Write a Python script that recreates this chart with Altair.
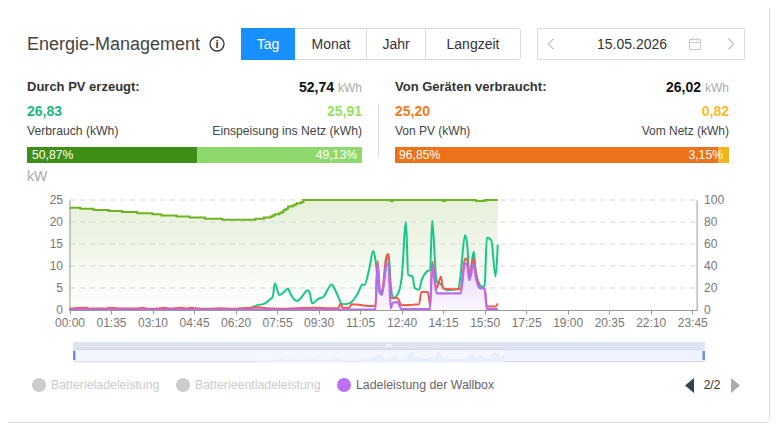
import altair as alt
import pandas as pd

# ---- values ----
soc_t = [0,25,55,90,120,155,190,210,245,275,310,350,425,445,455,460,465,470,480,485,490,495,500,510,515,520,530,535,735,740,855,860,930,950]
soc_v = [93,92,91,90,89,88,87,86,85,84,83,82,83,84,84,85,86,87,88,89,91,92,94,95,96,97,98,100,99,100,99,100,99,100]

pv_t = [0,395,415,430,445,460,465,470,480,490,500,505,520,530,545,550,555,570,580,600,610,625,640,660,670,675,685,695,700,705,710,715,730,735,740,750,760,770,775,785,790,800,805,820,825,830,840,850,855,865,890,895,905,910,915,925,930,945,950,955,965,975,980]
pv_v = [0,0,0.5,1.1,1.4,2.5,3.0,6.1,3.4,4.0,4.9,3.8,2.05,2.8,4.5,3.8,1.5,2.6,2.9,5.8,4.1,1.3,1.5,3.8,5.8,5.7,8.9,13.4,11.4,7.2,3.8,4.0,12.7,6,2.7,3.4,7.2,20,8,7.6,5,4.6,6.5,8.9,9.1,20.3,6.5,5.8,5,4.5,4.8,8,17,15,7.6,13.3,8.1,5.3,5.7,16.4,15.9,7.6,14.9]

red_t = [0,20,40,45,60,85,90,125,150,170,175,200,215,230,245,255,270,275,300,325,340,375,395,420,430,450,480,520,560,600,615,620,625,640,645,695,700,705,710,715,725,730,735,750,760,800,805,820,825,830,840,850,855,895,905,910,915,925,930,940,950,955,975,980]
red_v = [0.3,0.45,0.5,0.3,0.35,0.35,0.5,0.35,0.35,0.5,0.3,0.3,0.5,0.3,0.4,0.5,0.3,0.5,0.3,0.3,0.4,0.3,0.4,0.5,0.6,0.4,0.3,0.4,0.5,0.4,0.4,1.5,0.5,0.5,1.3,0.9,0.9,11.2,4.3,4.3,12.2,12.7,2.7,2.7,1.1,1.3,4.1,4.1,1.1,11,4.9,7.6,4.9,4.7,11.7,11.4,7.6,11.7,8.6,5,5,0.8,0.8,1.5]

wb_t = [0,700,705,710,715,725,730,735,740,750,760,825,830,840,895,905,910,915,925,930,940,950,955,980]
wb_v = [0.1,0.1,10.6,4.2,3.4,10.4,10.4,0.4,1.7,1.8,0.2,0.2,10.2,3.8,3.8,10.6,10.2,6.8,10.6,7.2,4.9,4.9,0.2,0.2]

pv_shares = [50.87, 49.13]
dev_shares = [96.85, 3.15]
x_ticks = [0,95,190,285,380,475,570,665,760,855,950,1045,1140,1235,1330,1425]
kw_ticks = [0,5,10,15,20,25]
pct_ticks = [0,20,40,60,80,100]
grid_kw = [5,10,15,20,25]

FONT = "Liberation Sans"
one = alt.Data(values=[{"a": 1}])
X0, X1, Y0, Y1 = 69.5, 696.6, 310, 200


def V(p):
    return alt.value(p - 8)


def txt(s, x, y, size=12, color="#444444", align="left", weight="normal"):
    return alt.Chart(one).mark_text(text=s, font=FONT, fontSize=size, color=color, align=align,
                                    baseline="alphabetic", fontWeight=weight).encode(x=V(x), y=V(y))


def box(x, x2, y, y2, fill="transparent", stroke=None, r=0, sw=1):
    kw = dict(fill=fill, cornerRadius=r)
    if stroke:
        kw.update(stroke=stroke, strokeWidth=sw)
    return alt.Chart(one).mark_rect(**kw).encode(x=V(x), x2=V(x2), y=V(y), y2=V(y2))


def pt(x, y, shape, size, fill=None, stroke=None, sw=1):
    kw = dict(shape=shape, size=size, opacity=1)
    if fill:
        kw.update(filled=True, fill=fill, stroke=None)
    else:
        kw.update(filled=False, stroke=stroke, strokeWidth=sw)
    return alt.Chart(one).mark_point(**kw).encode(x=V(x), y=V(y))


xs = alt.Scale(domain=[0, 1435], range=[X0 - 8, X1 - 8], nice=False, zero=False)
ys = alt.Scale(domain=[0, 25], range=[Y0 - 8, Y1 - 8], nice=False)
yr = alt.Scale(domain=[0, 100], range=[Y0 - 8, Y1 - 8], nice=False)


def df(t, v):
    return pd.DataFrame({"t": t, "v": v})


def XE(axis=None):
    return alt.X("t:Q", scale=xs, axis=axis, title=None)


def stacked(shares, colors, left, right, top=147, bottom=163):
    ends, starts, acc = [], [], 0
    for s in shares:
        starts.append(acc)
        acc += s
        ends.append(acc)
    d = pd.DataFrame({"s": starts, "e": ends, "c": colors})
    sc = alt.Scale(domain=[0, 100], range=[left - 8, right - 8], nice=False, zero=False)
    return alt.Chart(d).mark_rect().encode(
        x=alt.X("s:Q", scale=sc, axis=None), x2="e:Q", y=V(top), y2=V(bottom),
        fill=alt.Color("c:N", scale=None))


layers = []
# card edges
layers += [box(-100, 769.5, -100, 422.5, "transparent", "#dddddd", 4)]
# header
layers += [txt("Energie-Management", 27, 50, 18, "#444444")]
layers += [pt(217, 44, "circle", 196, stroke="#333333", sw=1.3), txt("i", 217, 48, 11, "#333333", "center", "bold")]
layers += [box(241.5, 520.5, 28.5, 59.5, "#ffffff", "#d9d9d9", 2),
           box(241, 295, 28, 60, "#1890ff"),
           box(366.5, 366.5, 28.5, 59.5, "#ffffff", "#d9d9d9"),
           box(425.5, 425.5, 28.5, 59.5, "#ffffff", "#d9d9d9")]
layers += [txt("Tag", 268, 49, 14, "#ffffff", "center"), txt("Monat", 331, 49, 14, "#333333", "center"),
           txt("Jahr", 396, 49, 14, "#333333", "center"), txt("Langzeit", 473, 49, 14, "#333333", "center")]
layers += [box(537.5, 744.5, 28.5, 59.5, "#ffffff", "#d9d9d9"),
           txt("15.05.2026", 632, 49, 14, "#333333", "center"),
           pt(551, 44, "M0.5,-1L-0.5,0L0.5,1", 121, stroke="#c4c4c4", sw=1.2),
           pt(731, 44, "M-0.5,-1L0.5,0L-0.5,1", 121, stroke="#c4c4c4", sw=1.2),
           box(689.5, 700.5, 39.5, 49.5, "#ffffff", "#c9c9c9"),
           box(689.5, 700.5, 42.5, 42.5, "#ffffff", "#c9c9c9"),
           box(692.5, 692.5, 37.5, 40.5, "#ffffff", "#c9c9c9"),
           box(697.5, 697.5, 37.5, 40.5, "#ffffff", "#c9c9c9")]
# summaries
layers += [txt("Durch PV erzeugt:", 27, 91, 13, "#333333", weight="bold"),
           txt("52,74", 334, 92, 14, "#111111", "right", "bold"), txt("kWh", 362, 92, 12, "#aaaaaa", "right"),
           txt("26,83", 27, 116, 14, "#1eb87f", weight="bold"), txt("25,91", 362, 116, 14, "#97e05e", "right", "bold"),
           txt("Verbrauch (kWh)", 27, 135, 12.2), txt("Einspeisung ins Netz (kWh)", 362, 135, 12.2, align="right"),
           stacked(pv_shares, ["#3f8f16", "#8fd96c"], 27, 362),
           txt("50,87%", 32, 159, 12.2, "#ffffff"), txt("49,13%", 357, 159, 12.2, "#ffffff", "right"),
           box(378.5, 378.5, 104, 158, "#ffffff", "#dddddd"),
           txt("Von Geräten verbraucht:", 395, 91, 13, "#333333", weight="bold"),
           txt("26,02", 701, 92, 14, "#111111", "right", "bold"), txt("kWh", 729, 92, 12, "#aaaaaa", "right"),
           txt("25,20", 395, 116, 14, "#f47a21", weight="bold"), txt("0,82", 729, 116, 14, "#f5bd1f", "right", "bold"),
           txt("Von PV (kWh)", 395, 135, 12), txt("Vom Netz (kWh)", 729, 135, 12, align="right"),
           stacked(dev_shares, ["#ed7219", "#efb71c"], 395, 729),
           txt("96,85%", 399, 159, 12.2, "#ffffff"), txt("3,15%", 723, 159, 12.2, "#ffffff", "right"),
           txt("kW", 27, 181, 14, "#aaaaaa")]

# main plot
soc_grad = alt.Gradient(gradient="linear", x1=0, x2=0, y1=0, y2=1,
                        stops=[alt.GradientStop(color="#e6f0d9", offset=0),
                               alt.GradientStop(color="#ffffff", offset=1)])
wb_grad = alt.Gradient(gradient="linear", x1=0, x2=0, y1=0, y2=1,
                       stops=[alt.GradientStop(color="#e8d6f8", offset=0),
                              alt.GradientStop(color="#faf6fd", offset=1)])
soc = df(soc_t + [980], soc_v + [100])
layers += [alt.Chart(soc).mark_area(fill=soc_grad, interpolate="step-after").encode(
    x=XE(), y=alt.Y("v:Q", scale=yr, axis=None))]
layers += [alt.Chart(pd.DataFrame({"v": grid_kw})).mark_rule(color="#d9d9d9", strokeDash=[6, 4], strokeWidth=1).encode(
    x=V(X0), x2=V(X1), y=alt.Y("v:Q", scale=ys, axis=None))]
layers += [alt.Chart(df(wb_t, wb_v)).mark_area(fill=wb_grad, interpolate="monotone").encode(
    x=XE(), y=alt.Y("v:Q", scale=ys, axis=None))]
layers += [alt.Chart(soc).mark_line(color="#6cb51f", strokeWidth=2, interpolate="step-after").encode(
    x=XE(), y=alt.Y("v:Q", scale=yr, axis=alt.Axis(
        orient="right", offset=X1 - 8 - 762, values=pct_ticks, title=None, grid=False, ticks=False, zindex=1,
        domainColor="#999999", labelColor="#777777", labelFontSize=12, labelFont=FONT, labelPadding=7, labelOffset=-1)))]
layers += [alt.Chart(df(pv_t, pv_v)).mark_line(color="#14c88a", strokeWidth=2, interpolate="monotone").encode(
    x=XE(axis=alt.Axis(orient="bottom", offset=Y0 - 8 - 415, values=x_ticks, title=None, grid=False, zindex=1,
                       domainColor="#999999", tickColor="#999999", tickSize=4, labelColor="#777777",
                       labelFontSize=12, labelFont=FONT, labelPadding=3, labelOverlap=False, labelFlush=False,
                       labelExpr="(floor(datum.value/60)<10?'0':'')+floor(datum.value/60)+':'+(datum.value%60<10?'0':'')+datum.value%60")),
    y=alt.Y("v:Q", scale=ys, axis=alt.Axis(
        orient="left", offset=8 - X0, values=kw_ticks, title=None, grid=False, ticks=False, zindex=1,
        domainColor="#999999", labelColor="#777777", labelFontSize=12, labelFont=FONT, labelPadding=7, labelOffset=-1)))]
layers += [alt.Chart(df(red_t, red_v)).mark_line(color="#f5594e", strokeWidth=2, interpolate="monotone").encode(
    x=XE(), y=alt.Y("v:Q", scale=ys, axis=None))]
layers += [alt.Chart(df(wb_t, wb_v)).mark_line(color="#b86bee", strokeWidth=2.2, interpolate="monotone").encode(
    x=XE(), y=alt.Y("v:Q", scale=ys, axis=None))]

# zoom slider
sx = alt.Scale(domain=[0, 1435], range=[75 - 8, 703 - 8], nice=False, zero=False)
sy = alt.Scale(domain=[0, 25], range=[362 - 8, 349 - 8], nice=False)
layers += [box(73, 705, 342, 349, "#dfe4f3"),
           box(73.5, 704.5, 349.5, 361.5, "#eef3fd", "#cfd8ef", 1),
           box(75, 505, 350, 361, "#f4f7fe"),
           alt.Chart(df(pv_t, pv_v)).mark_area(fill="#eaf0fd", stroke="#dfe7fb", strokeWidth=0.6, interpolate="monotone").encode(
               x=alt.X("t:Q", scale=sx, axis=None), y=alt.Y("v:Q", scale=sy, axis=None)),
           box(73, 75.5, 351, 360, "#6f8fe6"), box(702.5, 705, 351, 360, "#6f8fe6"),
           box(386.5, 387.5, 344, 347, "#ffffff"), box(388.5, 389.5, 344, 347, "#ffffff"), box(390.5, 391.5, 344, 347, "#ffffff")]

# legend and pager
layers += [pt(39, 385, "circle", 196, fill="#cccccc"), txt("Batterieladeleistung", 51, 389, 12.35, "#cccccc"),
           pt(183, 385, "circle", 196, fill="#cccccc"), txt("Batterieentladeleistung", 195, 389, 12.35, "#cccccc"),
           pt(344, 385, "circle", 196, fill="#bd70f0"), txt("Ladeleistung der Wallbox", 356, 389, 12.35, "#666666"),
           pt(689.5, 385.5, "M0.6,-1L-0.6,0L0.6,1Z", 225, fill="#2f4554"), txt("2/2", 712, 389, 12, "#333333", "center"),
           pt(735.5, 385.5, "M-0.6,-1L0.6,0L-0.6,1Z", 225, fill="#aaaaaa")]

chart = alt.layer(*layers).resolve_scale(x="independent", y="independent", color="independent").properties(
    width=762, height=415, padding=0, background="#ffffff",
    autosize=alt.AutoSizeParams(type="none")
).configure_view(stroke=None)

chart.save("out.html", embed_options={"renderer": "svg", "actions": False})
